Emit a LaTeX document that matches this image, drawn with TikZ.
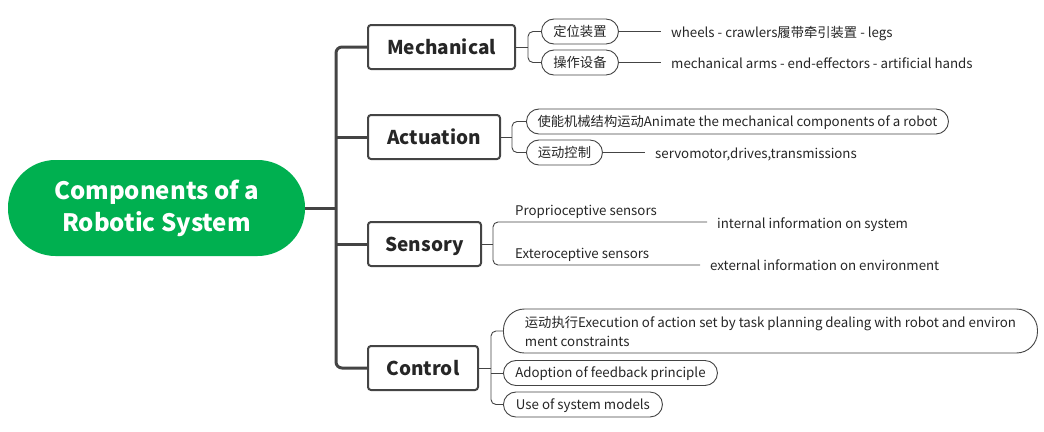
\documentclass[tikz,border=0pt]{standalone}
\usepackage{fontspec}
\setmainfont{Noto Sans CJK SC}
\definecolor{rootgreen}{RGB}{0,176,80}
\definecolor{linegray}{RGB}{68,68,68}
\definecolor{txt}{RGB}{38,38,38}
\tikzset{
  rootbox/.style={fill=rootgreen, text=white, rounded corners=47.5pt, minimum width=297pt, minimum height=96pt, inner sep=0, align=center, font=\fontsize{24}{32}\selectfont\bfseries},
  mainbox/.style={draw=linegray, line width=2pt, fill=white, rounded corners=3pt, minimum height=44pt, inner sep=0, anchor=west, text=txt, text height=14.5pt, text depth=0pt, font=\fontsize{19}{24}\selectfont\bfseries},
  pill/.style={draw=linegray, line width=0.9pt, fill=white, rounded corners=12.5pt, minimum height=25pt, inner sep=0, anchor=west, text=txt, font=\fontsize{13.3}{19}\selectfont},
  oneline/.style={text height=9.6pt, text depth=0pt},
  plain/.style={inner xsep=10pt, inner ysep=0pt, anchor=west, text=txt, oneline, font=\fontsize{13.3}{19}\selectfont},
  lbl/.style={inner xsep=10pt, inner ysep=0pt, anchor=west, text=txt, oneline, font=\fontsize{13.3}{19}\selectfont},
  trunk/.style={draw=linegray, line width=3pt, rounded corners=6pt},
  twig/.style={draw=linegray, line width=0.9pt, rounded corners=5pt}
}
\begin{document}
\begin{tikzpicture}[x=1pt,y=-1pt]
\useasboundingbox (0,0) rectangle (1044,431);
% root
\node[rootbox] (root) at (156.5,208) {Components of a\\Robotic System};
% main boxes
\node[mainbox, minimum width=147pt] (mech) at (367,47) {Mechanical};
\node[mainbox, minimum width=132pt] (act) at (367,137) {Actuation};
\node[mainbox, minimum width=113pt] (sens) at (367,244) {Sensory};
\node[mainbox, minimum width=110pt] (ctrl) at (367,368) {Control};
\coordinate (tr) at (336,0);
\draw[trunk] (root.east) -- (root.east -| tr);
\draw[trunk] (mech.west) -- (mech.west -| tr) -- (ctrl.west -| tr) -- (ctrl.west);
\draw[trunk] (act.west) -- (act.west -| tr);
\draw[trunk] (sens.west) -- (sens.west -| tr);
% Mechanical
\coordinate (b1) at (528,0);
\node[pill, oneline, minimum width=77pt] (m1) at (541,31.5) {定位装置};
\node[pill, oneline, minimum width=77pt] (m2) at (541,62.5) {操作设备};
\draw[twig] (mech.east) -- (mech.east -| b1);
\draw[twig] (m1.west) -- (m1.west -| b1) -- (m2.west -| b1) -- (m2.west);
\node[plain] (m1t) at (661,33) {wheels - crawlers履带牵引装置 - legs};
\node[plain] (m2t) at (661,63.7) {mechanical arms - end-effectors - artificial hands};
\draw[twig] (m1.east) -- (m1.east -| m1t.west);
\draw[twig] (m2.east) -- (m2.east -| m2t.west);
% Actuation
\coordinate (b2) at (512,0);
\node[pill, oneline, minimum width=422pt] (a1) at (526,121.5) {使能机械结构运动Animate the mechanical components of a robot};
\node[pill, oneline, minimum width=76pt] (a2) at (526,152.5) {运动控制};
\draw[twig] (act.east) -- (act.east -| b2);
\draw[twig] (a1.west) -- (a1.west -| b2) -- (a2.west -| b2) -- (a2.west);
\node[plain] (a2t) at (645,153.7) {servomotor,drives,transmissions};
\draw[twig] (a2.east) -- (a2.east -| a2t.west);
% Sensory
\coordinate (b3) at (493,0);
\coordinate (s1end) at (707,222);
\coordinate (s2end) at (700,265);
\draw[twig] (sens.east) -- (sens.east -| b3);
\draw[twig] (s1end) -- (s1end -| b3) -- (s2end -| b3) -- (s2end);
\node[plain] (si1) at (707,224) {internal information on system};
\node[plain] (si2) at (700,265.8) {external information on environment};
\node[lbl] (s1) at (505,211) {Proprioceptive sensors};
\node[lbl] (s2) at (505,253.3) {Exteroceptive sensors};
% Control
\coordinate (b4) at (491,0);
\node[pill, rounded corners=21pt, minimum width=534pt, minimum height=44pt, align=left] (c1) at (503,331) {运动执行Execution of action set by task planning dealing with robot and environ\\ment constraints};
\node[pill, oneline, minimum width=214pt] (c2) at (503,373) {Adoption of feedback principle};
\node[pill, oneline, minimum width=159pt] (c3) at (503,404.5) {Use of system models};
\draw[twig] (ctrl.east) -- (ctrl.east -| b4);
\draw[twig] (c1.west) -- (c1.west -| b4) -- (c3.west -| b4) -- (c3.west);
\draw[twig] (c2.west) -- (c2.west -| b4);
\end{tikzpicture}
\end{document}
